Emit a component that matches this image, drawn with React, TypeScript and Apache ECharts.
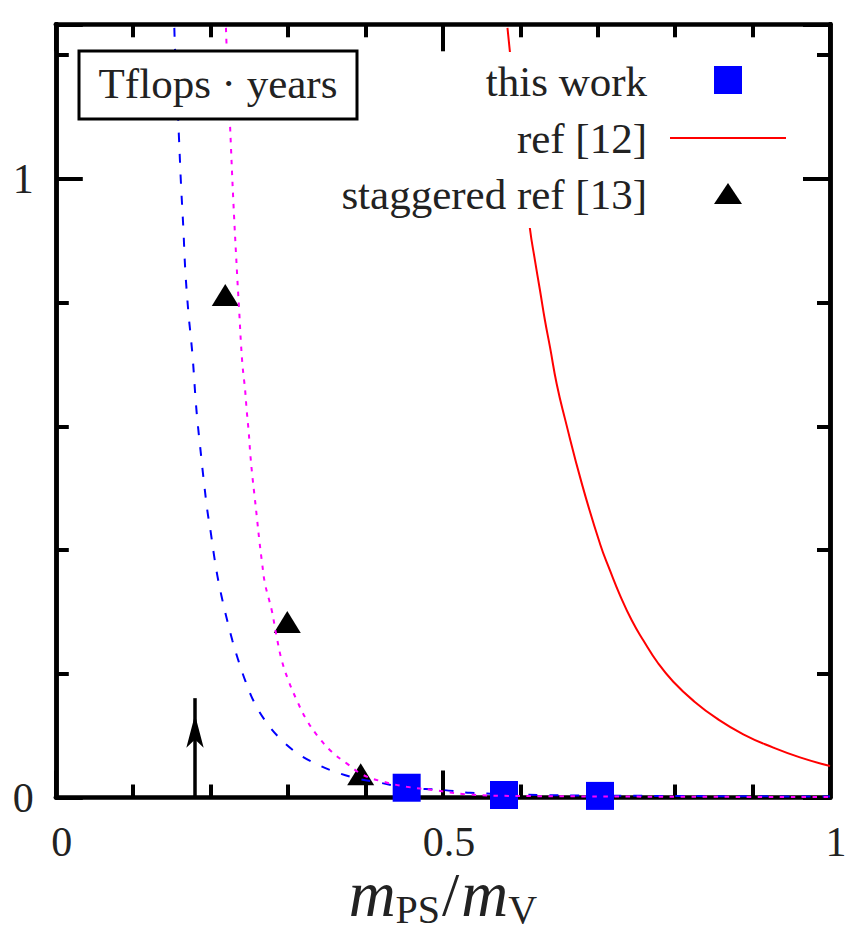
import React, { useEffect, useRef } from 'react';
import * as echarts from 'echarts';

// ---- data ----
const xTickLabels = ['0', '0.5', '1'];
const yTickLabels = ['0', '1'];

// "this work" (blue squares)
const thisWork: [number, number][] = [
  [0.4532, 0.0158],
  [0.5789, 0.004],
  [0.7029, 0.0026],
];

// "staggered ref [13]" (black triangles)
const staggered: [number, number][] = [
  [0.2189, 0.8124],
  [0.299, 0.2836],
  [0.3938, 0.0376],
];

// "ref [12]" (red solid curve)
const ref12: [number, number][] = [
  [0.5834, 1.2442], [0.5867, 1.2039], [0.5944, 1.1109], [0.6125, 0.9188],
  [0.619, 0.8676], [0.6255, 0.8192], [0.6319, 0.7708], [0.6384, 0.7277],
  [0.647, 0.6686], [0.6577, 0.6121], [0.68, 0.505], [0.7029, 0.4103],
  [0.7158, 0.3672], [0.7288, 0.3269], [0.7439, 0.2865], [0.7588, 0.2542],
  [0.7782, 0.2166], [0.7976, 0.1872], [0.8234, 0.1566], [0.8537, 0.1278],
  [0.888, 0.1022], [0.9268, 0.0807], [0.9612, 0.0649], [1.0, 0.0508],
];

// blue dashed fit curve
const fitDashed: [number, number][] = [
  [0.1531, 1.2442], [0.154, 1.2099], [0.1591, 1.0667], [0.1617, 0.9919],
  [0.1647, 0.9214], [0.1673, 0.8515], [0.1714, 0.7821], [0.1742, 0.7466],
  [0.1768, 0.7115], [0.1807, 0.6416], [0.1833, 0.6045], [0.1863, 0.569],
  [0.1892, 0.534], [0.1923, 0.4996], [0.1957, 0.4641], [0.2001, 0.4291],
  [0.204, 0.3947], [0.2086, 0.3592], [0.2143, 0.3241], [0.2207, 0.2898],
  [0.228, 0.2542], [0.2357, 0.222], [0.2453, 0.1869], [0.256, 0.1546],
  [0.2715, 0.1224], [0.2887, 0.0965], [0.3103, 0.073], [0.3348, 0.0552],
  [0.3606, 0.0416], [0.3887, 0.031], [0.4188, 0.0239], [0.4532, 0.0158],
  [0.5005, 0.0121], [0.535, 0.0077], [0.6082, 0.0045], [0.703, 0.003],
  [1.0, 0.0016],
];

// magenta dotted fit curve
const fitDotted: [number, number][] = [
  [0.2198, 1.2442], [0.2207, 1.212], [0.225, 1.0883], [0.2293, 0.9645],
  [0.2344, 0.8407], [0.237, 0.7842], [0.2392, 0.7332], [0.2414, 0.6954],
  [0.2444, 0.6605], [0.2466, 0.6255], [0.2492, 0.5905], [0.2512, 0.5556],
  [0.2538, 0.5206], [0.2569, 0.4856], [0.2599, 0.4507], [0.2629, 0.4157],
  [0.2663, 0.3807], [0.2702, 0.3458], [0.2789, 0.3027], [0.2853, 0.2596],
  [0.2918, 0.222], [0.3003, 0.1897], [0.3112, 0.1574], [0.3241, 0.1251],
  [0.3391, 0.0981], [0.3564, 0.0739], [0.3757, 0.0552], [0.3972, 0.0363],
  [0.423, 0.0255], [0.4532, 0.0174], [0.4876, 0.0121], [0.5307, 0.0052],
  [0.5996, 0.0024], [1.0, 0.0008],
];

// vertical arrow (physical point marker)
const arrowX = [0.1798, 0.1798];
const arrowY = [0, 0.1606];

const legendNames = ['this work', 'ref [12]', 'staggered ref [13]'];
const boxText = 'Tflops · years';

// ---- styling ----
const FONT = '"Liberation Serif", "DejaVu Serif", serif';
const TXT = '#222';

function xAxisDef(position: 'bottom' | 'top', showLabel: boolean) {
  return {
    type: 'value',
    position,
    min: 0,
    max: 1,
    interval: 0.5,
    axisLine: { show: true, onZero: false, lineStyle: { color: '#000', width: 4.5 } },
    axisTick: { show: true, inside: true, length: 27, lineStyle: { color: '#000', width: 4 } },
    minorTick: { show: true, splitNumber: 5, length: 13, lineStyle: { color: '#000', width: 4 } },
    splitLine: { show: false },
    minorSplitLine: { show: false },
    axisLabel: {
      show: showLabel,
      margin: 23,
      fontFamily: FONT,
      fontSize: 42,
      color: TXT,
      padding: [0, 0, 0, 12],
      formatter: (v: number) => xTickLabels.find((l) => Number(l) === v) ?? '',
    },
  } as any;
}

function yAxisDef(position: 'left' | 'right', major: boolean, showLabel: boolean) {
  return {
    type: 'value',
    position,
    min: 0,
    max: 1.25,
    interval: major ? 1 : 0.2,
    axisLine: { show: true, onZero: false, lineStyle: { color: '#000', width: 4.5 } },
    axisTick: { show: true, inside: true, length: major ? 27 : 13, lineStyle: { color: '#000', width: 4 } },
    splitLine: { show: false },
    axisLabel: {
      show: showLabel,
      margin: 22,
      fontFamily: FONT,
      fontSize: 42,
      color: TXT,
      formatter: (v: number) => yTickLabels.find((l) => Number(l) === v) ?? '',
    },
  } as any;
}

const xMain = xAxisDef('bottom', true);
xMain.name = '{i|m}{s|PS}{n|/}{i|m}{s|V}';
xMain.nameLocation = 'middle';
xMain.nameGap = 60;
xMain.nameMoveOverlap = false;
xMain.nameTextStyle = {
  rich: {
    i: { fontFamily: FONT, fontStyle: 'italic', fontSize: 65, lineHeight: 72, color: TXT },
    n: { fontFamily: FONT, fontSize: 62, lineHeight: 72, color: TXT, padding: [0, 2, 0, 2] },
    s: { fontFamily: FONT, fontSize: 40, verticalAlign: 'bottom', color: TXT },
  },
};

const textStyle = (text: string, x: number, y: number, align: string) => ({
  text,
  x,
  y,
  font: `43px ${FONT}`,
  fill: TXT,
  align,
  textAlign: align,
  verticalAlign: 'middle',
  textVerticalAlign: 'middle',
});

const option: any = {
  animation: false,
  backgroundColor: '#ffffff',
  grid: {
    left: 55.8,
    right: 18,
    top: 24.3,
    bottom: 134.5,
    containLabel: false,
    outerBoundsMode: 'none',
  },
  xAxis: [xMain, xAxisDef('top', false)],
  yAxis: [
    yAxisDef('left', true, true),
    yAxisDef('left', false, false),
    yAxisDef('right', true, false),
    yAxisDef('right', false, false),
  ],
  series: [
    {
      type: 'scatter',
      name: legendNames[0],
      data: thisWork,
      symbol: 'rect',
      symbolSize: 28,
      itemStyle: { color: '#0000ff', opacity: 1 },
      z: 2,
    },
    {
      type: 'scatter',
      name: legendNames[2],
      data: staggered,
      symbol: 'triangle',
      symbolSize: [27, 22],
      itemStyle: { color: '#000000', opacity: 1 },
      z: 2,
    },
    {
      type: 'line',
      name: legendNames[1],
      data: ref12,
      showSymbol: false,
      symbol: 'none',
      smooth: 0.5,
      lineStyle: { color: '#ff0000', width: 2 },
      z: 3,
    },
    {
      type: 'line',
      name: 'fit (dashed)',
      data: fitDashed,
      showSymbol: false,
      symbol: 'none',
      smooth: 0.4,
      lineStyle: { color: '#0000ff', width: 2, type: [9, 12] },
      z: 3,
    },
    {
      type: 'line',
      name: 'fit (dotted)',
      data: fitDotted,
      showSymbol: false,
      symbol: 'none',
      smooth: 0.4,
      lineStyle: { color: '#ff00ff', width: 2, type: [4.5, 6.5] },
      z: 3,
    },
    {
      type: 'line',
      name: 'arrow',
      showSymbol: true,
      data: [
        { value: [arrowX[0], arrowY[0]], symbol: 'none' },
        {
          value: [arrowX[1], arrowY[1]],
          symbol: 'arrow',
          symbolSize: [13, 33],
          symbolOffset: [0, 16.5],
        },
      ],
      lineStyle: { color: '#000', width: 3.5 },
      itemStyle: { color: '#000', opacity: 1 },
      z: 4,
    },
  ],
  graphic: [
    // opaque key area (hides the red curve behind the key text)
    { type: 'rect', z: 100, shape: { x: 340, y: 52, width: 315, height: 176 }, style: { fill: '#fff' } },
    { type: 'text', z: 101, style: textStyle(legendNames[0], 647, 81, 'right') },
    { type: 'text', z: 101, style: textStyle(legendNames[1], 647, 138, 'right') },
    { type: 'text', z: 101, style: textStyle(legendNames[2], 647, 194, 'right') },
    { type: 'rect', z: 101, shape: { x: 714, y: 66, width: 28, height: 28 }, style: { fill: '#0000ff' } },
    { type: 'line', z: 101, shape: { x1: 670, y1: 138, x2: 786, y2: 138 }, style: { stroke: '#ff0000', lineWidth: 2 } },
    { type: 'polygon', z: 101, shape: { points: [[714, 204], [742, 204], [728, 183]] }, style: { fill: '#000' } },
    // units box
    { type: 'rect', z: 100, shape: { x: 79, y: 51, width: 278, height: 68 }, style: { fill: '#fff', stroke: '#000', lineWidth: 3 } },
    { type: 'text', z: 101, style: textStyle(boxText, 218, 83, 'center') },
  ],
};

export default function App() {
  const ref = useRef<HTMLDivElement>(null);
  useEffect(() => {
    if (!ref.current) return;
    const chart = echarts.init(ref.current, null, { renderer: 'svg' });
    chart.setOption(option);
    return () => chart.dispose();
  }, []);
  return (
    <div
      ref={ref}
      style={{ position: 'absolute', left: 0, top: 0, width: 848, height: 932, background: '#fff' }}
    />
  );
}
